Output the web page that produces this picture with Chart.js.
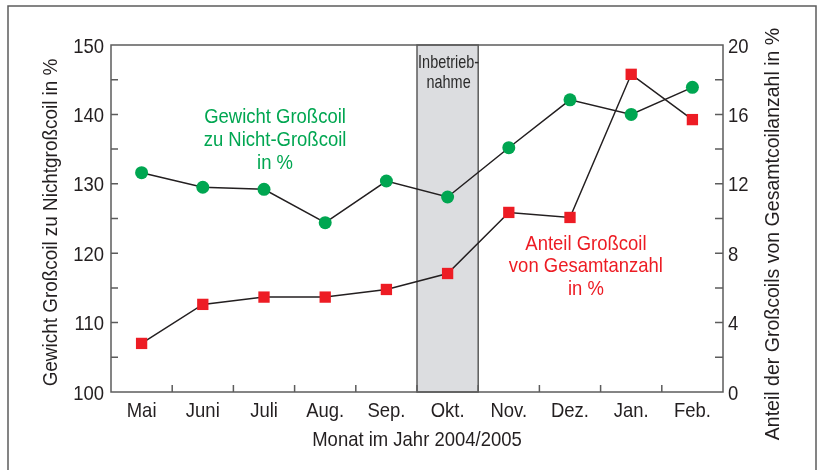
<!DOCTYPE html>
<html>
<head>
<meta charset="utf-8">
<script src="https://cdn.jsdelivr.net/npm/chart.js@4.4.1/dist/chart.umd.min.js"></script>
<style>
  html, body { margin: 0; padding: 0; background: #fff; }
</style>
</head>
<body>
<canvas id="myChart" width="822" height="470"></canvas>
<script>
// Daten aus der Grafik
const months = ['Mai', 'Juni', 'Juli', 'Aug.', 'Sep.', 'Okt.', 'Nov.', 'Dez.', 'Jan.', 'Feb.'];
const gewicht = [131.6, 129.5, 129.2, 124.4, 130.4, 128.1, 135.2, 142.1, 140.0, 143.9];
const anteil = [2.8, 5.05, 5.47, 5.47, 5.91, 6.83, 10.35, 10.06, 18.31, 15.7];
const shadedMonth = 'Okt.';

// Achsen
const leftMin = 100, leftMax = 150, leftStep = 10, leftMinor = 5;
const rightMin = 0, rightMax = 20, rightStep = 4, rightMinor = 2;

// Texte
const leftTitle = 'Gewicht Großcoil zu Nichtgroßcoil in %';
const rightTitle = 'Anteil der Großcoils von Gesamtcoilanzahl in %';
const xTitle = 'Monat im Jahr 2004/2005';
const greenLabel = ['Gewicht Großcoil', 'zu Nicht-Großcoil', 'in %'];
const redLabel = ['Anteil Großcoil', 'von Gesamtanzahl', 'in %'];
const shadeLabel = ['Inbetrieb-', 'nahme'];

// Schmale Helvetica nachbilden: Liberation Sans horizontal gestaucht
const FONT = "'Liberation Sans', Arial, sans-serif";
const NARROW = 0.88;
const SIZE = 21;
const GREEN = '#00a651';
const RED = '#ed1c24';
const AXIS = '#5c5c5c';
const TEXT = '#231f20';

const ctx = document.getElementById('myChart');

const drawText = (c, s, x, y, opts = {}) => {
    const { size = SIZE, color = TEXT, align = 'center', rot = 0, sx = NARROW } = opts;
    c.save();
    c.translate(x, y);
    if (rot) c.rotate(rot);
    c.scale(sx, 1);
    c.font = `${size}px ${FONT}`;
    c.fillStyle = color;
    c.textAlign = align;
    c.textBaseline = 'alphabetic';
    c.fillText(s, 0, 0);
    c.restore();
};

// Hintergrund, Rahmen, Ticks
const decorPlugin = {
    id: 'decor',
    beforeDatasetsDraw(chart) {
        const { ctx, chartArea: a, scales: { x, y, y2 } } = chart;
        const half = (x.getPixelForValue(1) - x.getPixelForValue(0)) / 2;
        const i = months.indexOf(shadedMonth);
        const x0 = x.getPixelForValue(i) - half;
        const x1 = x.getPixelForValue(i) + half;

        ctx.save();
        ctx.fillStyle = '#dcdde0';
        ctx.fillRect(x0, a.top, x1 - x0, a.bottom - a.top);
        ctx.strokeStyle = AXIS;
        ctx.lineWidth = 1.5;
        ctx.strokeRect(x0, a.top, x1 - x0, a.bottom - a.top);

        shadeLabel.forEach((t, k) => drawText(ctx, t, (x0 + x1) / 2 + 1, a.top + 23 + k * 20, { size: 19, sx: 0.76, color: '#2a2a2a' }));

        // Rahmen Plotbereich
        ctx.strokeRect(a.left, a.top, a.right - a.left, a.bottom - a.top);

        // Ticks nach innen
        ctx.beginPath();
        for (let v = leftMin + leftMinor; v < leftMax; v += leftMinor) {
            const py = y.getPixelForValue(v);
            ctx.moveTo(a.left, py);
            ctx.lineTo(a.left + 7, py);
        }
        for (let v = rightMin + rightMinor; v < rightMax; v += rightMinor) {
            const py = y2.getPixelForValue(v);
            ctx.moveTo(a.right, py);
            ctx.lineTo(a.right - 8, py);
        }
        for (let k = 1; k < months.length; k++) {
            const px = x.getPixelForValue(k) - half;
            ctx.moveTo(px, a.bottom);
            ctx.lineTo(px, a.bottom - 7);
        }
        ctx.stroke();
        ctx.restore();
    },
    afterDraw(chart) {
        const { ctx, chartArea: a, scales: { x, y, y2 } } = chart;
        const base = SIZE * 0.36;

        // Achsenbeschriftungen
        y.ticks.forEach(t => drawText(ctx, String(t.value), a.left - 7, y.getPixelForValue(t.value) + base, { align: 'right' }));
        y2.ticks.forEach(t => drawText(ctx, String(t.value), a.right + 5, y2.getPixelForValue(t.value) + base, { align: 'left' }));
        months.forEach((m, k) => drawText(ctx, m, x.getPixelForValue(k), a.bottom + 25));

        // Beschriftungen im Diagramm
        greenLabel.forEach((t, k) => drawText(ctx, t, x.getPixelForValue(2.18), y.getPixelForValue(138.7) + k * 23, { color: GREEN }));
        redLabel.forEach((t, k) => drawText(ctx, t, x.getPixelForValue(7.26), y2.getPixelForValue(8.2) + k * 22.5, { color: RED }));

        // Achsentitel
        drawText(ctx, xTitle, (a.left + a.right) / 2, a.bottom + 54);
        drawText(ctx, leftTitle, 57, (a.top + a.bottom) / 2 + 4, { rot: -Math.PI / 2, sx: 0.9 });
        drawText(ctx, rightTitle, 779, 234, { rot: -Math.PI / 2, sx: 0.93 });

        // äußerer Rahmen
        ctx.save();
        ctx.strokeStyle = AXIS;
        ctx.lineWidth = 1.5;
        ctx.beginPath();
        ctx.moveTo(8, 480);
        ctx.lineTo(8, 6);
        ctx.lineTo(816, 6);
        ctx.lineTo(816, 480);
        ctx.stroke();
        ctx.restore();
    }
};

const myChart = new Chart(ctx, {
    type: 'line',
    data: {
        labels: months,
        datasets: [
            {
                label: 'Gewicht Großcoil zu Nicht-Großcoil in %',
                data: gewicht,
                yAxisID: 'y',
                borderColor: TEXT,
                borderWidth: 1.5,
                pointStyle: 'circle',
                pointRadius: 6.5,
                pointBackgroundColor: GREEN,
                pointBorderColor: GREEN,
                pointBorderWidth: 0,
                tension: 0
            },
            {
                label: 'Anteil Großcoil von Gesamtanzahl in %',
                data: anteil,
                yAxisID: 'y2',
                borderColor: TEXT,
                borderWidth: 1.5,
                pointStyle: 'rect',
                pointRadius: 8,
                pointBackgroundColor: RED,
                pointBorderColor: RED,
                pointBorderWidth: 0,
                tension: 0
            }
        ]
    },
    options: {
        responsive: false,
        animation: false,
        devicePixelRatio: 1,
        layout: { padding: { top: 45, left: 0, right: 0, bottom: 0 } },
        scales: {
            x: {
                offset: true,
                grid: { display: false },
                border: { display: false },
                ticks: { display: false },
                afterFit: (s) => { s.height = 78; }
            },
            y: {
                position: 'left',
                min: leftMin,
                max: leftMax,
                grid: { display: false },
                border: { display: false },
                ticks: { display: false, stepSize: leftStep },
                afterFit: (s) => { s.width = 111; }
            },
            y2: {
                position: 'right',
                min: rightMin,
                max: rightMax,
                grid: { display: false },
                border: { display: false },
                ticks: { display: false, stepSize: rightStep },
                afterFit: (s) => { s.width = 99; }
            }
        },
        plugins: {
            legend: { display: false },
            tooltip: { enabled: false }
        }
    },
    plugins: [decorPlugin]
});
</script>
</body>
</html>
